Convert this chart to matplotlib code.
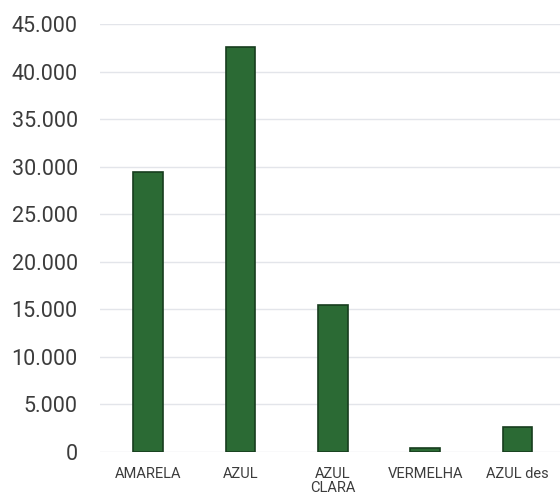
import matplotlib.pyplot as plt
from matplotlib.ticker import FuncFormatter, MultipleLocator

# Data
categories = ["AMARELA", "AZUL", "AZUL\nCLARA", "VERMELHA", "AZUL des"]
values = [29400, 42550, 15450, 400, 2650]

plt.rcParams["font.family"] = ["Roboto", "DejaVu Sans"]

fig = plt.figure(figsize=(5.6, 4.98), dpi=100)
ax = fig.add_axes([100 / 560, 1 - 452 / 498, 1 - 100 / 560, (452 - 24) / 498])

x = range(len(categories))
ax.bar(x, values, width=0.32, color="#2b6a34", edgecolor="#173d1e", linewidth=1.2, zorder=3)

ax.set_ylim(0, 45000)
ax.set_xlim(-0.52, 4.46)
ax.yaxis.set_major_locator(MultipleLocator(5000))
ax.yaxis.set_major_formatter(FuncFormatter(lambda v, p: f"{int(v):,}".replace(",", ".")))
ax.grid(axis="y", color="#e3e5ea", linewidth=1, zorder=0)

ax.set_xticks(list(x))
ax.set_xticklabels(categories, fontsize=10.5, color="#3c3c3c", linespacing=1.0)
ax.tick_params(axis="x", length=0, pad=11)
ax.tick_params(axis="y", length=0, pad=16, labelsize=15.5, labelcolor="#3c3c3c")

for s in ax.spines.values():
    s.set_visible(False)

fig.savefig("out.png", dpi=100)
